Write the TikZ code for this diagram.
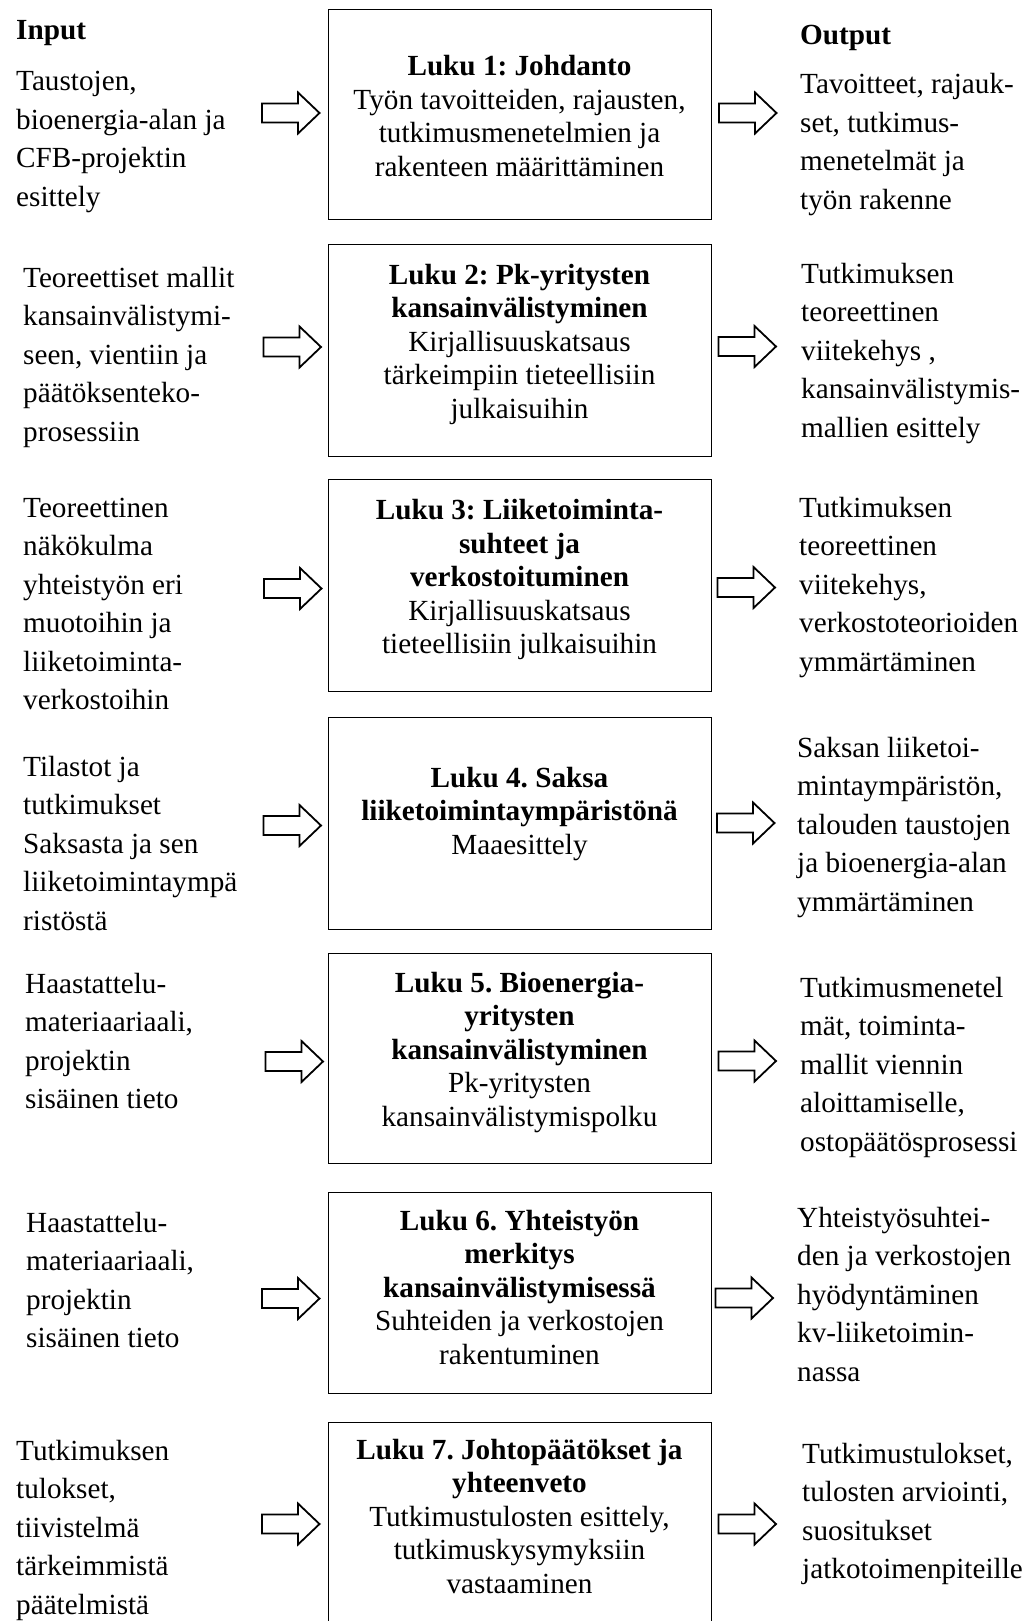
\documentclass[tikz,border=0pt]{standalone}
\usepackage{fontspec}
\setmainfont{Liberation Serif}
\frenchspacing

\begin{document}
% multi-line nodes are anchored at the baseline of their last line
\begin{tikzpicture}[x=1pt,y=-1pt,
  chapter/.style={draw=black, line width=1pt, minimum width=383pt, inner sep=0pt},
  boxtext/.style={anchor=base, align=center, inner sep=0pt, font=\fontsize{29.2}{33.5}\selectfont},
  sidetext/.style={anchor=base west, align=left, inner sep=0pt, font=\fontsize{29.2}{38.5}\selectfont},
  heading/.style={anchor=base west, inner sep=0pt, font=\fontsize{29.2}{38.5}\selectfont\bfseries},
  pics/blockarrow/.style={code={
    \draw[line width=1.8pt, line join=miter, fill=white]
      (-29,-9.5) -- (7,-9.5) -- (7,-20.5) -- (28.5,0) -- (7,20.5) -- (7,9.5) -- (-29,9.5) -- cycle;
  }}
]
\fill[white] (0,0) rectangle (1030,1621);
\useasboundingbox (0,0) rectangle (1030,1621);

% column headings
\node[heading] (inhead) at (16,40) {Input};
\node[heading] (outhead) at (800,45) {Output};

% chapter boxes
\node[chapter, minimum height=210pt] (b1) at (519.5,115) {};
\node[chapter, minimum height=211pt] (b2) at (519.5,350.5) {};
\node[chapter, minimum height=212pt] (b3) at (519.5,585) {};
\node[chapter, minimum height=212pt] (b4) at (519.5,823) {};
\node[chapter, minimum height=210pt] (b5) at (519.5,1058) {};
\node[chapter, minimum height=201pt] (b6) at (519.5,1292.5) {};
\node[chapter, minimum height=260pt] (b7) at (519.5,1552) {};

% chapter contents
\node[boxtext] (t1) at (519.5,176.5) {\textbf{Luku 1: Johdanto}\\Työn tavoitteiden, rajausten,\\tutkimusmenetelmien ja\\rakenteen määrittäminen};
\node[boxtext] (t2) at (519.5,418) {\textbf{Luku 2: Pk-yritysten}\\\textbf{kansainvälistyminen}\\Kirjallisuuskatsaus\\tärkeimpiin tieteellisiin\\julkaisuihin};
\node[boxtext] (t3) at (519.5,653.5) {\textbf{Luku 3: Liiketoiminta-}\\\textbf{suhteet ja}\\\textbf{verkostoituminen}\\Kirjallisuuskatsaus\\tieteellisiin julkaisuihin};
\node[boxtext] (t4) at (519.5,854) {\textbf{Luku 4. Saksa}\\\textbf{liiketoimintaympäristönä}\\Maaesittely};
\node[boxtext] (t5) at (519.5,1126) {\textbf{Luku 5. Bioenergia-}\\\textbf{yritysten}\\\textbf{kansainvälistyminen}\\Pk-yritysten\\kansainvälistymispolku};
\node[boxtext] (t6) at (519.5,1364) {\textbf{Luku 6. Yhteistyön}\\\textbf{merkitys}\\\textbf{kansainvälistymisessä}\\Suhteiden ja verkostojen\\rakentuminen};
\node[boxtext] (t7) at (519.5,1593) {\textbf{Luku 7. Johtopäätökset ja}\\\textbf{yhteenveto}\\Tutkimustulosten esittely,\\tutkimuskysymyksiin\\vastaaminen};

% inputs
\node[sidetext] (in1) at (16,206.5) {Taustojen,\\bioenergia-alan ja\\CFB-projektin\\esittely};
\node[sidetext] (in2) at (23,441) {Teoreettiset mallit\\kansainvälistymi-\\seen, vientiin ja\\päätöksenteko-\\prosessiin};
\node[sidetext] (in3) at (23,709.5) {Teoreettinen\\näkökulma\\yhteistyön eri\\muotoihin ja\\liiketoiminta-\\verkostoihin};
\node[sidetext] (in4) at (23,930) {Tilastot ja\\tutkimukset\\Saksasta ja sen\\liiketoimintaympä\\ristöstä};
\node[sidetext] (in5) at (25,1108.5) {Haastattelu-\\materiaariaali,\\projektin\\sisäinen tieto};
\node[sidetext] (in6) at (26,1347.5) {Haastattelu-\\materiaariaali,\\projektin\\sisäinen tieto};
\node[sidetext] (in7) at (16,1614) {Tutkimuksen\\tulokset,\\tiivistelmä\\tärkeimmistä\\päätelmistä};

% outputs
\node[sidetext] (out1) at (800,209.5) {Tavoitteet, rajauk-\\set, tutkimus-\\menetelmät ja\\työn rakenne};
\node[sidetext] (out2) at (801,437) {Tutkimuksen\\teoreettinen\\viitekehys ,\\kansainvälistymis-\\mallien esittely};
\node[sidetext] (out3) at (799,671) {Tutkimuksen\\teoreettinen\\viitekehys,\\verkostoteorioiden\\ymmärtäminen};
\node[sidetext] (out4) at (797,911) {Saksan liiketoi-\\mintaympäristön,\\talouden taustojen\\ja bioenergia-alan\\ymmärtäminen};
\node[sidetext] (out5) at (800,1151) {Tutkimusmenetel\\mät, toiminta-\\mallit viennin\\aloittamiselle,\\ostopäätösprosessi};
\node[sidetext] (out6) at (797,1381) {Yhteistyösuhtei-\\den ja verkostojen\\hyödyntäminen\\kv-liiketoimin-\\nassa};
\node[sidetext] (out7) at (802,1578.5) {Tutkimustulokset,\\tulosten arviointi,\\suositukset\\jatkotoimenpiteille};

% block arrows into the chapters
\pic (la1) at (291,113) {blockarrow};
\pic (la2) at (292.5,347) {blockarrow};
\pic (la3) at (293,588.5) {blockarrow};
\pic (la4) at (292.5,825.5) {blockarrow};
\pic (la5) at (294.5,1061.5) {blockarrow};
\pic (la6) at (291,1298.5) {blockarrow};
\pic (la7) at (291,1524) {blockarrow};

% block arrows out of the chapters
\pic (ra1) at (748,113) {blockarrow};
\pic (ra2) at (747.5,346.5) {blockarrow};
\pic (ra3) at (746.5,587.5) {blockarrow};
\pic (ra4) at (746,823) {blockarrow};
\pic (ra5) at (747.5,1061) {blockarrow};
\pic (ra6) at (744.5,1298) {blockarrow};
\pic (ra7) at (747.5,1524) {blockarrow};
\end{tikzpicture}
\end{document}
